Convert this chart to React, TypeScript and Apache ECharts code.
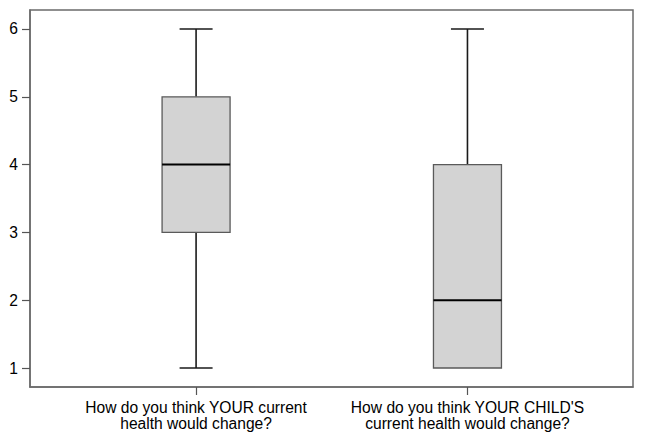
import React, { useEffect, useRef } from "react";
import * as echarts from "echarts";

const categories = [
  "How do you think YOUR current\nhealth would change?",
  "How do you think YOUR CHILD'S\ncurrent health would change?",
];
const positions = [1, 2];
const minValues = [1, 1];
const q1Values = [3, 1];
const medianValues = [4, 2];
const q3Values = [5, 4];
const maxValues = [6, 6];
const yTicks = [1, 2, 3, 4, 5, 6];

export default function App() {
  const ref = useRef<HTMLDivElement>(null);
  useEffect(() => {
    if (!ref.current) return;
    const chart = echarts.init(ref.current, null, { renderer: "svg" });
    const data = positions.map((p, i) => [
      p,
      minValues[i],
      q1Values[i],
      medianValues[i],
      q3Values[i],
      maxValues[i],
    ]);
    const textStyle = {
      fontFamily: "Liberation Sans, Arial, sans-serif",
      fontSize: 15.6,
      color: "#000",
    };
    chart.setOption({
      animation: false,
      backgroundColor: "#fff",
      grid: {
        left: 30,
        right: 12,
        top: 10,
        bottom: 56,
        show: true,
        borderColor: "#6b6b6b",
        borderWidth: 1.5,
      },
      xAxis: {
        type: "value",
        min: 0.388,
        max: 2.61,
        splitLine: { show: false },
        axisLine: { show: true, lineStyle: { color: "#6b6b6b", width: 1.5 } },
        axisTick: {
          show: true,
          customValues: positions,
          length: 8,
          lineStyle: { color: "#555", width: 1.2 },
        },
        axisLabel: {
          customValues: positions,
          formatter: (v: number) => categories[positions.indexOf(v)] ?? "",
          ...textStyle,
          lineHeight: 16,
          margin: 12,
          align: "center",
        },
      },
      yAxis: {
        type: "value",
        min: 0.72,
        max: 6.28,
        splitLine: { show: false },
        axisLine: { show: true, lineStyle: { color: "#6b6b6b", width: 1.5 } },
        axisTick: {
          show: true,
          customValues: yTicks,
          length: 8,
          lineStyle: { color: "#555", width: 1.2 },
        },
        axisLabel: {
          customValues: yTicks,
          ...textStyle,
          margin: 12,
        },
      },
      series: [
        {
          type: "custom",
          data,
          encode: { x: 0, y: [1, 2, 3, 4, 5] },
          renderItem: (params: any, api: any) => {
            const x = api.value(0);
            const vMin = api.value(1);
            const vQ1 = api.value(2);
            const vMed = api.value(3);
            const vQ3 = api.value(4);
            const vMax = api.value(5);
            const pMin = api.coord([x, vMin]);
            const pQ1 = api.coord([x, vQ1]);
            const pMed = api.coord([x, vMed]);
            const pQ3 = api.coord([x, vQ3]);
            const pMax = api.coord([x, vMax]);
            const cx = pMed[0];
            const hw = 34;
            const cw = 16.5;
            const children: any[] = [];
            const whisker = { stroke: "#1a1a1a", lineWidth: 1.6 };
            if (vMax > vQ3) {
              children.push({
                type: "line",
                shape: { x1: cx, y1: pQ3[1], x2: cx, y2: pMax[1] },
                style: whisker,
              });
              children.push({
                type: "line",
                shape: { x1: cx - cw, y1: pMax[1], x2: cx + cw, y2: pMax[1] },
                style: whisker,
              });
            }
            if (vMin < vQ1) {
              children.push({
                type: "line",
                shape: { x1: cx, y1: pQ1[1], x2: cx, y2: pMin[1] },
                style: whisker,
              });
              children.push({
                type: "line",
                shape: { x1: cx - cw, y1: pMin[1], x2: cx + cw, y2: pMin[1] },
                style: whisker,
              });
            }
            children.push({
              type: "rect",
              shape: { x: cx - hw, y: pQ3[1], width: hw * 2, height: pQ1[1] - pQ3[1] },
              style: { fill: "#d3d3d3", stroke: "#5a5a5a", lineWidth: 1.3 },
            });
            children.push({
              type: "line",
              shape: { x1: cx - hw, y1: pMed[1], x2: cx + hw, y2: pMed[1] },
              style: { stroke: "#000", lineWidth: 2 },
            });
            return { type: "group", children };
          },
        },
      ],
    });
    return () => chart.dispose();
  }, []);
  return <div ref={ref} style={{ width: 645, height: 443, position: "absolute", left: 0, top: 0 }} />;
}
